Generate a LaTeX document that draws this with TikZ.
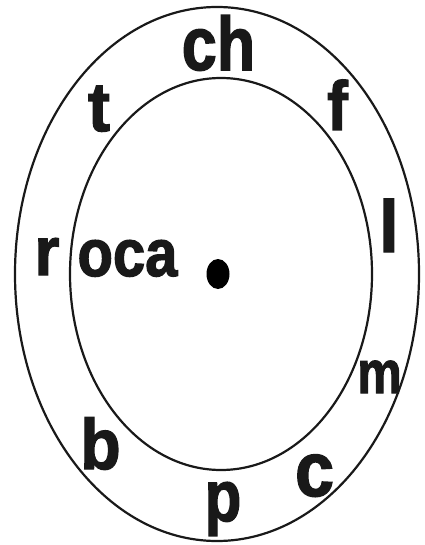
\documentclass[tikz,border=0pt]{standalone}
\usepackage{fontspec}
\setmainfont{Liberation Sans}
\newfontfamily\heavyfont[FakeBold=2]{Liberation Sans Bold}
\newcommand\ltrtext[3]{\heavyfont\fontsize{#1}{#1}\selectfont\scalebox{1}[#2]{#3}}
\begin{document}
\begin{tikzpicture}[x=1pt,y=-1pt,
  ring/.style={line width=2.2pt, draw=black!90},
  ltr/.style={inner sep=0pt, outer sep=0pt, anchor=base, text=black!90}]
\useasboundingbox (0,0) rectangle (424,545);
% rings
\draw[ring] (217,274) ellipse [x radius=202, y radius=267];
\draw[ring] (221,274) ellipse [x radius=151, y radius=196];
% centre dot
\fill[black] (218,274) ellipse [x radius=11.5, y radius=15];
% letters
\node[ltr] (ch) at (218.5,70) {\ltrtext{63}{1.2}{ch}};
\node[ltr] (t) at (99,131) {\ltrtext{66}{1.05}{t}};
\node[ltr] (f) at (337.5,130) {\ltrtext{62}{1.12}{f}};
\node[ltr] (l) at (389,252) {\ltrtext{70}{1.05}{l}};
\node[ltr] (r) at (47,275) {\ltrtext{64}{1.07}{r}};
\node[ltr] (oca) at (127.5,276) {\ltrtext{58}{1.15}{oca}};
\node[ltr] (m) at (379.5,393) {\ltrtext{50}{1.2}{m}};
\node[ltr] (c) at (314.5,496) {\ltrtext{70}{1.1}{c}};
\node[ltr] (b) at (100.5,469) {\ltrtext{66}{1.08}{b}};
\node[ltr] (p) at (223,521) {\ltrtext{60}{1.2}{p}};
\end{tikzpicture}
\end{document}
